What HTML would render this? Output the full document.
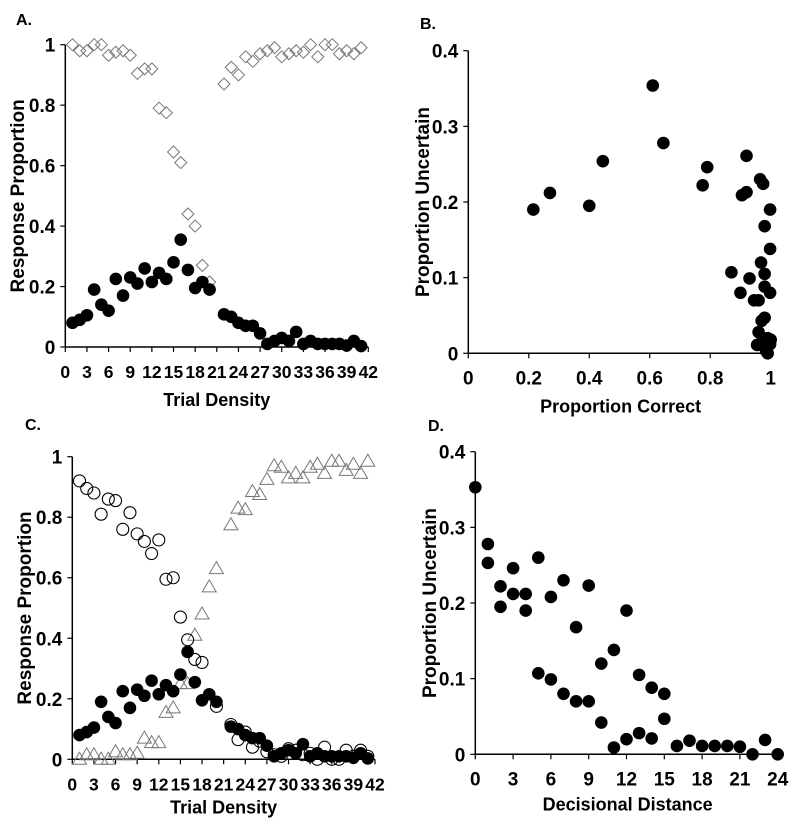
<!DOCTYPE html>
<html><head><meta charset="utf-8"><style>
html,body{margin:0;padding:0;background:#fff;}
svg{display:block;font-family:"Liberation Sans",Arial,sans-serif;font-weight:bold;}
</style></head><body>
<svg id="fig" width="800" height="828" viewBox="0 0 800 828" xmlns="http://www.w3.org/2000/svg"></svg>
<script>
// Panel A / C data (x = trial density)
const densX = [1,2,3,4,5,6,7,8,9,10,11,12,13,14,15,16,17,18,19,20,22,23,24,25,26,27,28,29,30,31,32,33,34,35,36,37,38,39,40,41];
const uncertainVals = [0.08,0.09,0.105,0.19,0.14,0.12,0.225,0.17,0.23,0.21,0.26,0.215,0.245,0.225,0.28,0.355,0.255,0.195,0.215,0.19,0.108,0.1,0.08,0.07,0.07,0.045,0.01,0.02,0.03,0.02,0.05,0.01,0.02,0.01,0.01,0.01,0.01,0.005,0.02,0.003];
const correctVals = [1.0,0.98,0.98,1.0,1.0,0.965,0.975,0.98,0.965,0.905,0.92,0.92,0.79,0.775,0.645,0.61,0.44,0.40,0.27,0.215,0.87,0.925,0.9,0.96,0.945,0.97,0.98,0.99,0.96,0.97,0.98,0.975,1.0,0.96,1.0,1.0,0.97,0.98,0.97,0.99];
const sparseX = [1,2,3,4,5,6,7,8,9,10,11,12,13,14,15,16,17,18,20,22,23,24,25,26,27,28,29,30,31,32,33,34,35,36,37,38,39,40,41];
const sparseVals = [0.92,0.895,0.88,0.81,0.86,0.855,0.76,0.815,0.745,0.72,0.68,0.725,0.595,0.60,0.47,0.395,0.33,0.32,0.175,0.115,0.065,0.09,0.04,0.06,0.025,0.015,0.01,0.035,0.03,0.015,0.02,0,0.04,0,0,0.03,0.01,0.03,0.01];
const denseVals = [0,0.015,0.015,0,0,0.025,0.015,0.015,0.02,0.07,0.055,0.055,0.155,0.17,0.25,0.25,0.41,0.48,0.57,0.63,0.775,0.83,0.825,0.885,0.875,0.925,0.97,0.965,0.93,0.945,0.93,0.965,0.975,0.945,0.985,0.985,0.955,0.975,0.945,0.985];
const densTicks = [0,3,6,9,12,15,18,21,24,27,30,33,36,39,42];
const propTicks = [0,0.2,0.4,0.6,0.8,1];
const propTickLabels = ["0","0.2","0.4","0.6","0.8","1"];
// Panel B data
const bCorrect = [0.215,0.27,0.40,0.445,0.61,0.645,0.775,0.79,0.92,0.905,0.92,0.965,0.975,0.998,0.98,0.998,0.968,0.98,0.87,0.93,0.9,0.98,0.998,0.945,0.96,0.97,0.98,0.96,0.975,0.99,1.0,0.955,0.975,0.998,0.985,0.99];
const bUncertain = [0.19,0.212,0.195,0.254,0.354,0.278,0.222,0.246,0.261,0.209,0.213,0.23,0.224,0.19,0.168,0.138,0.12,0.105,0.107,0.099,0.08,0.088,0.08,0.07,0.07,0.043,0.047,0.028,0.02,0.02,0.018,0.011,0.01,0.012,0.003,0.0];
const bXTicks = [0,0.2,0.4,0.6,0.8,1];
const bXTickLabels = ["0","0.2","0.4","0.6","0.8","1"];
const uncTicks = [0,0.1,0.2,0.3,0.4];
const uncTickLabels = ["0","0.1","0.2","0.3","0.4"];
// Panel D data
const dDistance = [0,1,1,2,2,3,3,4,4,5,5,6,6,7,7,8,8,9,9,10,10,11,11,12,12,13,13,14,14,15,15,16,17,18,19,20,21,22,23,24];
const dUncertain = [0.353,0.278,0.253,0.222,0.195,0.246,0.212,0.212,0.19,0.26,0.107,0.208,0.099,0.23,0.08,0.168,0.07,0.223,0.07,0.12,0.042,0.138,0.009,0.19,0.02,0.105,0.028,0.088,0.021,0.08,0.047,0.011,0.018,0.011,0.011,0.011,0.01,0,0.019,0];
const dTicks = [0,3,6,9,12,15,18,21,24];

const NS="http://www.w3.org/2000/svg";
const svg=document.getElementById('fig');
function mk(tag,attrs,parent){const e=document.createElementNS(NS,tag);for(const k in attrs)e.setAttribute(k,attrs[k]);(parent||svg).appendChild(e);return e;}
function txt(s,attrs,parent){const e=mk('text',attrs,parent);e.textContent=s;return e;}
function lin(d0,d1,r0,r1){return v=>r0+(v-d0)/(d1-d0)*(r1-r0);}

function panel(o){
  const g=mk('g',{});
  
  
  const sx=lin(o.xd[0],o.xd[1],o.x0,o.x1), sy=lin(o.yd[0],o.yd[1],o.y0,o.y1);
  const ax=mk('line',{x1:o.x0,y1:o.y0,x2:o.xEnd,y2:o.y0,stroke:'#000','stroke-width':1.5},g);
  
  
  const ay=mk('line',{x1:o.x0,y1:o.y0,x2:o.x0,y2:o.y1,stroke:'#000','stroke-width':1.5},g);
  
  
  o.xt.forEach((t,i)=>{
    mk('line',{x1:sx(t),y1:o.y0,x2:sx(t),y2:o.y0+5,stroke:'#000','stroke-width':1.2},g);
    const l=txt(o.xtl?o.xtl[i]:String(t),{x:sx(t),y:o.y0+31,'text-anchor':'middle','font-size':o.fs||19},g);
    
    
  });
  o.yt.forEach((t,i)=>{
    mk('line',{x1:o.x0-5,y1:sy(t),x2:o.x0,y2:sy(t),stroke:'#000','stroke-width':1.2},g);
    const l=txt(o.ytl[i],{x:o.x0-10,y:sy(t)+7,'text-anchor':'end','font-size':19},g);
    
    
  });
  const xt=txt(o.xtitle,{x:(o.x0+o.xEnd)/2,y:o.y0+o.xto,'text-anchor':'middle','font-size':18},g);
  
  
  const yc=(o.y0+o.y1)/2;
  const yt=txt(o.ytitle,{x:o.ytx,y:yc,'text-anchor':'middle','font-size':19,transform:`rotate(-90 ${o.ytx} ${yc})`},g);
  
  
  const pl=txt(o.label,{x:o.lx,y:o.ly,'font-size':16},g);
  
  
  return {g,sx,sy};
}
function dots(p,xs,ys,kind,nm){
  xs.forEach((x,i)=>{
    const cx=p.sx(x), cy=p.sy(ys[i]);
    let e;
    if(kind==='filled') e=mk('circle',{cx,cy,r:6.3,fill:'#000'},p.g);
    else if(kind==='open') e=mk('circle',{cx,cy,r:6,fill:'none',stroke:'#000','stroke-width':1.1},p.g);
    else if(kind==='diamond') e=mk('polygon',{points:`${cx},${cy-6} ${cx+6},${cy} ${cx},${cy+6} ${cx-6},${cy}`,fill:'none',stroke:'#777','stroke-width':1},p.g);
    else e=mk('polygon',{points:`${cx},${cy-7} ${cx+7},${cy+5} ${cx-7},${cy+5}`,fill:'none',stroke:'#777','stroke-width':1},p.g);
    
    
  });
}
// Panel A
const pA=panel({name:'panel-a',label:'A.',lx:16,ly:25,xd:[0,42],yd:[0,1],x0:65.3,x1:368.3,xEnd:368.3,y0:347,y1:44.7,xt:densTicks,yt:propTicks,ytl:propTickLabels,xtitle:'Trial Density',xto:59,ytitle:'Response Proportion',ytx:24,fs:17.5});
dots(pA,densX,correctVals,'diamond','correct-point');
dots(pA,densX,uncertainVals,'filled','uncertain-point');
// Panel B
const pB=panel({name:'panel-b',label:'B.',lx:420,ly:29,xd:[0,1],yd:[0,0.4],x0:468.3,x1:770.7,xEnd:773,y0:353.3,y1:50.7,xt:bXTicks,xtl:bXTickLabels,yt:uncTicks,ytl:uncTickLabels,xtitle:'Proportion Correct',xto:59,ytitle:'Proportion Uncertain',ytx:429});
dots(pB,bCorrect,bUncertain,'filled','trial-point');
// Panel C
const pC=panel({name:'panel-c',label:'C.',lx:25,ly:430,xd:[0,42],yd:[0,1],x0:72.3,x1:375,xEnd:375,y0:759.3,y1:456.7,xt:densTicks,yt:propTicks,ytl:propTickLabels,xtitle:'Trial Density',xto:54,ytitle:'Response Proportion',ytx:31,fs:17.5});
dots(pC,densX,denseVals,'triangle','dense-point');
dots(pC,sparseX,sparseVals,'open','sparse-point');
dots(pC,densX,uncertainVals,'filled','uncertain-point');
// Panel D
const pD=panel({name:'panel-d',label:'D.',lx:428,ly:431,xd:[0,24],yd:[0,0.4],x0:475.3,x1:777.7,xEnd:780,y0:754.3,y1:451.7,xt:dTicks,yt:uncTicks,ytl:uncTickLabels,xtitle:'Decisional Distance',xto:56,ytitle:'Proportion Uncertain',ytx:436});
dots(pD,dDistance,dUncertain,'filled','distance-point');
</script>
</body></html>
